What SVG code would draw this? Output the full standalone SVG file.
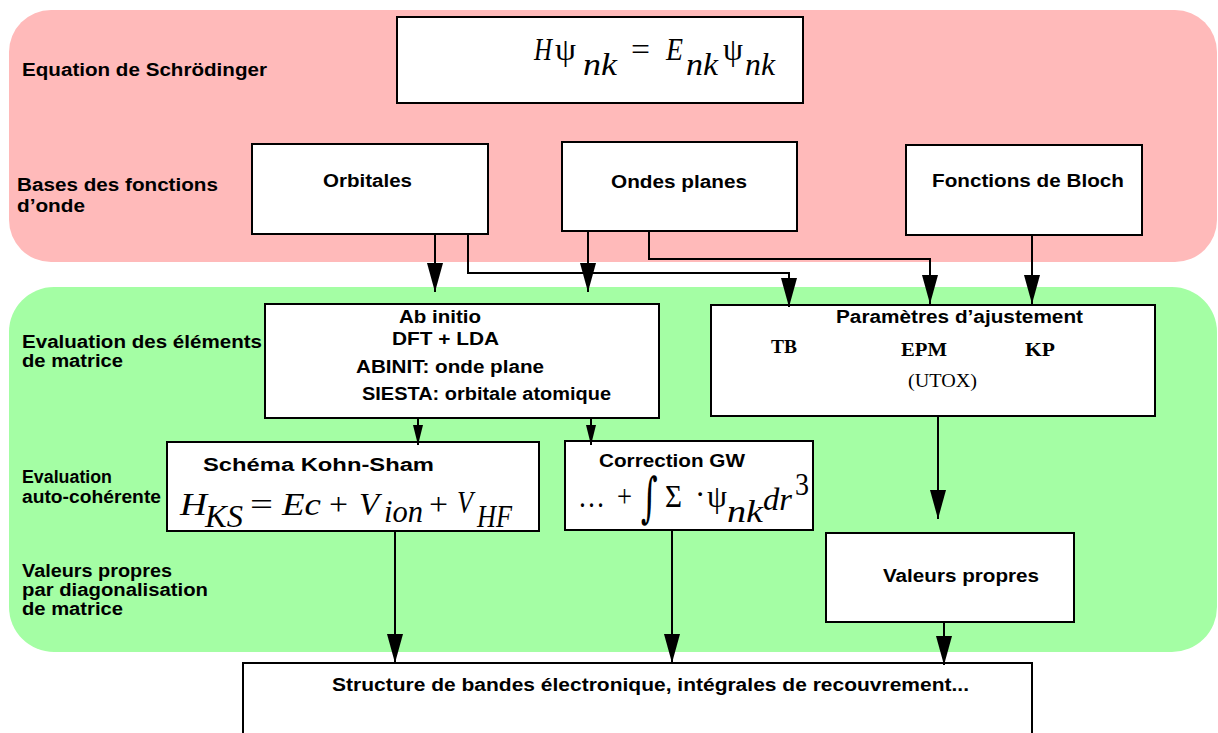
<svg xmlns="http://www.w3.org/2000/svg" width="1218" height="733" viewBox="0 0 1218 733">
  <style>
    .band-pink { fill: #ffbaba; }
    .band-green { fill: #a4fea4; }
    .box { fill: #ffffff; stroke: #000000; stroke-width: 2; }
    .lbl { font-family: "Liberation Sans", Arial, sans-serif; font-weight: bold; font-size: 18px; fill: #000; }
    .tb { font-family: "Liberation Serif", "Times New Roman", serif; font-weight: bold; font-size: 19px; fill: #000; }
    .tr { font-family: "Liberation Serif", "Times New Roman", serif; font-size: 19px; fill: #000; }
    .mi { font-family: "Liberation Serif", "Times New Roman", serif; font-style: italic; font-size: 31px; fill: #000; }
    .mu { font-family: "Liberation Serif", "Times New Roman", serif; font-size: 31px; fill: #000; }
    .int { font-family: "DejaVu Serif", "Liberation Serif", serif; font-size: 54px; fill: #000; }
    .conn { fill: none; stroke: #000; stroke-width: 2; }
    .big { marker-end: url(#headBig); }
    .small { marker-end: url(#headSmall); }
  </style>
  <defs>
    <marker id="headBig" markerUnits="userSpaceOnUse" viewBox="0 0 29 16" refX="29" refY="8" markerWidth="29" markerHeight="16" orient="auto">
      <path d="M0,0 L29,8 L0,16 z" fill="#000"/>
    </marker>
    <marker id="headSmall" markerUnits="userSpaceOnUse" viewBox="0 0 20 10" refX="20" refY="5" markerWidth="20" markerHeight="10" orient="auto">
      <path d="M0,0 L20,5 L0,10 z" fill="#000"/>
    </marker>
  </defs>

  <!-- background bands -->
  <rect class="band-pink" x="9" y="10" width="1208" height="252" rx="42" ry="42"/>
  <rect class="band-green" x="9" y="287" width="1208" height="365" rx="45" ry="45"/>

  <!-- row labels -->
  <g id="row-labels">
    <text class="lbl" x="22" y="76" textLength="245" lengthAdjust="spacingAndGlyphs">Equation de Schrödinger</text>
    <text class="lbl" x="17" y="191" textLength="201" lengthAdjust="spacingAndGlyphs">Bases des fonctions</text>
    <text class="lbl" x="17" y="212" textLength="68" lengthAdjust="spacingAndGlyphs">d’onde</text>
    <text class="lbl" x="22" y="348" textLength="240" lengthAdjust="spacingAndGlyphs">Evaluation des éléments</text>
    <text class="lbl" x="22" y="367" textLength="101" lengthAdjust="spacingAndGlyphs">de matrice</text>
    <text class="lbl" x="22" y="483" textLength="90" lengthAdjust="spacingAndGlyphs">Evaluation</text>
    <text class="lbl" x="22" y="503" textLength="139" lengthAdjust="spacingAndGlyphs">auto-cohérente</text>
    <text class="lbl" x="22" y="577" textLength="150" lengthAdjust="spacingAndGlyphs">Valeurs propres</text>
    <text class="lbl" x="22" y="596" textLength="186" lengthAdjust="spacingAndGlyphs">par diagonalisation</text>
    <text class="lbl" x="22" y="615" textLength="101" lengthAdjust="spacingAndGlyphs">de matrice</text>
  </g>

  <!-- Schrödinger equation -->
  <g id="equation">
    <rect class="box" x="397" y="17" width="406" height="86"/>
    <text class="mi" x="534" y="60" textLength="18" lengthAdjust="spacingAndGlyphs">H</text>
    <text class="mu" x="555" y="60" textLength="21" lengthAdjust="spacingAndGlyphs">ψ</text>
    <text class="mi" x="583" y="75" textLength="34" lengthAdjust="spacingAndGlyphs">nk</text>
    <text class="mu" x="631" y="60" textLength="19" lengthAdjust="spacingAndGlyphs">=</text>
    <text class="mi" x="666" y="60" textLength="17" lengthAdjust="spacingAndGlyphs">E</text>
    <text class="mi" x="686" y="75" textLength="32" lengthAdjust="spacingAndGlyphs">nk</text>
    <text class="mu" x="723" y="60" textLength="20" lengthAdjust="spacingAndGlyphs">ψ</text>
    <text class="mi" x="745" y="75" textLength="30" lengthAdjust="spacingAndGlyphs">nk</text>
  </g>

  <!-- wave-function bases -->
  <g id="orbitales">
    <rect class="box" x="252" y="144" width="236" height="90"/>
    <text class="lbl" x="323" y="187" textLength="89" lengthAdjust="spacingAndGlyphs">Orbitales</text>
  </g>
  <g id="ondes-planes">
    <rect class="box" x="562" y="142" width="235" height="89"/>
    <text class="lbl" x="611" y="188" textLength="136" lengthAdjust="spacingAndGlyphs">Ondes planes</text>
  </g>
  <g id="fonctions-bloch">
    <rect class="box" x="906" y="145" width="236" height="90"/>
    <text class="lbl" x="932" y="187" textLength="192" lengthAdjust="spacingAndGlyphs">Fonctions de Bloch</text>
  </g>

  <!-- matrix-element evaluation -->
  <g id="ab-initio">
    <rect class="box" x="265" y="304" width="394" height="114"/>
    <text class="lbl" x="399" y="323" textLength="82" lengthAdjust="spacingAndGlyphs">Ab initio</text>
    <text class="lbl" x="392" y="345" textLength="107" lengthAdjust="spacingAndGlyphs">DFT + LDA</text>
    <text class="lbl" x="356" y="373" textLength="188" lengthAdjust="spacingAndGlyphs">ABINIT: onde plane</text>
    <text class="lbl" x="362" y="400" textLength="249" lengthAdjust="spacingAndGlyphs">SIESTA: orbitale atomique</text>
  </g>
  <g id="parametres">
    <rect class="box" x="711" y="305" width="444" height="111"/>
    <text class="lbl" x="836" y="323" textLength="247" lengthAdjust="spacingAndGlyphs">Paramètres d’ajustement</text>
    <text class="tb" x="771" y="353" textLength="26" lengthAdjust="spacingAndGlyphs">TB</text>
    <text class="tb" x="901" y="356" textLength="46" lengthAdjust="spacingAndGlyphs">EPM</text>
    <text class="tb" x="1025" y="356" textLength="30" lengthAdjust="spacingAndGlyphs">KP</text>
    <text class="tr" x="908" y="387" textLength="69" lengthAdjust="spacingAndGlyphs">(UTOX)</text>
  </g>

  <!-- self-consistent step -->
  <g id="kohn-sham">
    <rect class="box" x="167" y="442" width="372" height="89"/>
    <text class="lbl" x="203" y="471" textLength="231" lengthAdjust="spacingAndGlyphs">Schéma Kohn-Sham</text>
    <text class="mi" x="180" y="515" textLength="27" lengthAdjust="spacingAndGlyphs">H</text>
    <text class="mi" x="205" y="527" textLength="38" lengthAdjust="spacingAndGlyphs">KS</text>
    <text class="mu" x="250" y="515" textLength="23" lengthAdjust="spacingAndGlyphs">=</text>
    <text class="mi" x="282" y="515" textLength="39" lengthAdjust="spacingAndGlyphs">Ec</text>
    <text class="mu" x="329" y="515" textLength="19" lengthAdjust="spacingAndGlyphs">+</text>
    <text class="mi" x="359" y="515" textLength="20" lengthAdjust="spacingAndGlyphs">V</text>
    <text class="mi" x="384" y="522" textLength="39" lengthAdjust="spacingAndGlyphs">ion</text>
    <text class="mu" x="429" y="515" textLength="19" lengthAdjust="spacingAndGlyphs">+</text>
    <text class="mi" x="457" y="513" textLength="16" lengthAdjust="spacingAndGlyphs">V</text>
    <text class="mi" x="477" y="527" textLength="35" lengthAdjust="spacingAndGlyphs">HF</text>
  </g>
  <g id="correction-gw">
    <rect class="box" x="565" y="441" width="248" height="89"/>
    <text class="lbl" x="599" y="467" textLength="146" lengthAdjust="spacingAndGlyphs">Correction GW</text>
    <text class="mu" x="578" y="507" textLength="27" lengthAdjust="spacingAndGlyphs">…</text>
    <text class="mu" x="617" y="507" textLength="15" lengthAdjust="spacingAndGlyphs">+</text>
    <text class="int" transform="translate(641,516) scale(0.6,1)">∫</text>
    <text class="mu" x="665" y="507" textLength="17" lengthAdjust="spacingAndGlyphs">Σ</text>
    <text class="mu" x="695" y="505">·</text>
    <text class="mu" x="707" y="507" textLength="20" lengthAdjust="spacingAndGlyphs">ψ</text>
    <text class="mi" x="727" y="522" textLength="36" lengthAdjust="spacingAndGlyphs">nk</text>
    <text class="mi" x="763" y="510" textLength="29" lengthAdjust="spacingAndGlyphs">dr</text>
    <text class="mu" x="795" y="495" textLength="14" lengthAdjust="spacingAndGlyphs">3</text>
  </g>
  <g id="valeurs-propres">
    <rect class="box" x="826" y="533" width="248" height="89"/>
    <text class="lbl" x="883" y="582" textLength="156" lengthAdjust="spacingAndGlyphs">Valeurs propres</text>
  </g>

  <!-- results -->
  <g id="structure-bandes">
    <rect class="box" x="243" y="663" width="789" height="90"/>
    <text class="lbl" x="332" y="691" textLength="637" lengthAdjust="spacingAndGlyphs">Structure de bandes électronique, intégrales de recouvrement...</text>
  </g>

  <!-- connectors -->
  <g id="connectors">
    <path class="conn big" d="M435,234 V292"/>
    <path class="conn big" d="M468,234 V273 H789 V307"/>
    <path class="conn big" d="M588,231 V292"/>
    <path class="conn big" d="M649,231 V259 H930 V304"/>
    <path class="conn big" d="M1032,235 V304"/>
    <path class="conn small" d="M418,418 V445"/>
    <path class="conn small" d="M591,418 V445"/>
    <path class="conn big" d="M938,416 V519"/>
    <path class="conn big" d="M395,531 V663"/>
    <path class="conn big" d="M672,530 V663"/>
    <path class="conn big" d="M944,622 V665"/>
  </g>
</svg>
